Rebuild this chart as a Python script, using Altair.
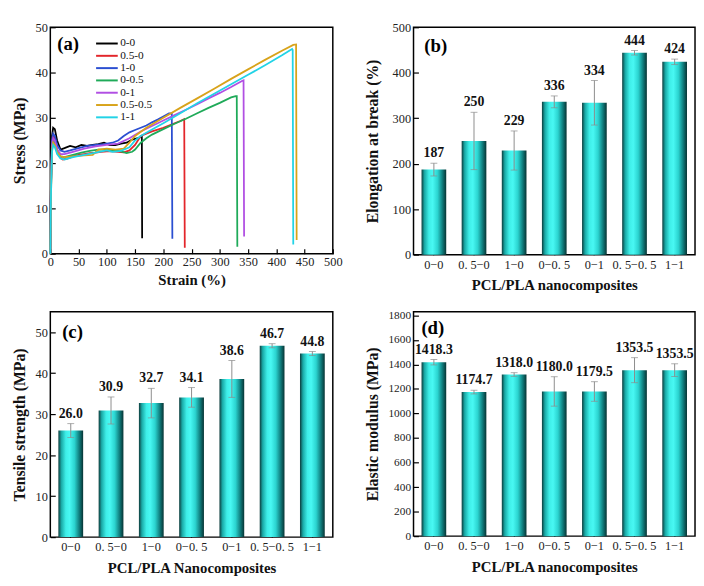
import altair as alt
import pandas as pd

SERIF = "Liberation Serif"

# ---------------- panel (a): stress-strain curves ----------------
samples = ["0-0", "0.5-0", "1-0", "0-0.5", "0-1", "0.5-0.5", "1-1"]
curve_colors = ["#000000", "#e3262b", "#2b4fd1", "#1faa59", "#b14fe3", "#d8a31a", "#22d3e6"]

strain_00 = [0, 1, 3, 5, 8, 12, 18, 25, 35, 45, 55, 65, 75, 85, 95, 105, 115, 125, 135, 145, 155, 160, 162, 162.5]
stress_00 = [0, 15, 26, 27.8, 27.5, 25, 23, 23.3, 23.8, 23.5, 24, 23.8, 24, 24.2, 24.5, 24, 24, 24.3, 24.5, 25.2, 25.5, 25.8, 25.8, 3.4]

strain_050 = [0, 1, 3, 5, 8, 12, 18, 22, 30, 40, 50, 60, 70, 80, 90, 100, 110, 120, 130, 140, 150, 160, 170, 180, 190, 200, 210, 220, 230, 237, 238]
stress_050 = [0, 14, 24.5, 26, 25.5, 23, 21.2, 20.8, 21, 21.5, 21.8, 22, 22.2, 22.3, 22.5, 22.6, 22.6, 22.5, 22.4, 22.8, 24, 26, 26.5, 27, 27.4, 27.8, 28.3, 28.8, 29.3, 29.7, 1.3]

strain_10 = [0, 1, 3, 5, 8, 12, 18, 25, 35, 50, 65, 80, 95, 110, 120, 130, 140, 150, 160, 170, 180, 190, 200, 210, 215, 216]
stress_10 = [0, 14, 25, 26.5, 26, 24, 22.8, 22.5, 22.8, 23.3, 23.8, 24, 24.2, 24.5, 25, 26, 26.8, 27.3, 27.8, 28.3, 29, 29.6, 30.3, 31, 31, 3.3]

strain_005 = [0, 1, 3, 5, 8, 12, 18, 25, 40, 55, 70, 85, 100, 115, 125, 135, 145, 150, 160, 170, 180, 200, 220, 240, 260, 280, 300, 320, 328, 330, 331]
stress_005 = [0, 13, 23.5, 25, 24.5, 22.5, 21.5, 21.3, 21.8, 22.3, 22.7, 23, 23, 22.8, 22.6, 22.2, 22.5, 23, 24.5, 25.5, 26.3, 27.5, 28.7, 29.8, 31, 32.2, 33.3, 34.5, 34.8, 34.8, 1.5]

strain_01 = [0, 1, 3, 5, 8, 12, 18, 25, 40, 60, 80, 100, 120, 140, 160, 180, 200, 220, 240, 260, 280, 300, 320, 340, 342, 343]
stress_01 = [0, 13, 24, 25.5, 25, 23, 22, 22, 22.5, 23.2, 23.7, 24, 24.3, 25.5, 27, 28.2, 29.4, 30.6, 31.8, 33, 34.3, 35.5, 36.8, 38.2, 38.3, 3.8]

strain_0505 = [0, 1, 3, 5, 8, 12, 18, 25, 40, 60, 75, 85, 100, 115, 130, 140, 150, 170, 200, 230, 260, 290, 320, 350, 380, 410, 430, 435, 436]
stress_0505 = [0, 12, 23, 24.5, 24, 22.5, 21.5, 21.3, 21.5, 21.7, 21.8, 23, 23.2, 23, 23.2, 24.5, 26, 27.8, 30, 32.2, 34.3, 36.4, 38.6, 40.7, 42.8, 44.8, 46.1, 46.2, 3]

strain_11 = [0, 1, 3, 5, 8, 12, 18, 25, 40, 60, 80, 100, 110, 125, 140, 150, 160, 180, 200, 230, 260, 290, 320, 350, 380, 410, 428, 429, 430]
stress_11 = [0, 12, 22.5, 24, 23.5, 22, 21, 20.8, 21.3, 21.8, 22.3, 22.8, 22.5, 22.7, 23.5, 25, 26, 27.4, 28.8, 31, 33.2, 35.3, 37.4, 39.5, 41.6, 43.8, 45.2, 45, 2]

strain_ticks = [0, 50, 100, 150, 200, 250, 300, 350, 400, 450, 500]
stress_ticks = [0, 10, 20, 30, 40, 50]

# ---------------- panels (b)-(d): bar charts ----------------
categories = ["0\u22120", "0. 5\u22120", "1\u22120", "0\u22120. 5", "0\u22121", "0. 5\u22120. 5", "1\u22121"]
elongation = [187, 250, 229, 336, 334, 444, 424]
elongation_err = [14, 63, 43, 13, 49, 5, 6]
tensile = [26.0, 30.9, 32.7, 34.1, 38.6, 46.7, 44.8]
tensile_err = [1.7, 3.3, 3.6, 2.4, 4.5, 0.5, 0.5]
modulus = [1418.3, 1174.7, 1318.0, 1180.0, 1179.5, 1353.5, 1353.5]
modulus_err = [22, 15, 15, 120, 80, 102, 52]

elong_ticks = [0, 100, 200, 300, 400, 500]
tensile_ticks = [0, 10, 20, 30, 40, 50]
modulus_ticks = [0, 200, 400, 600, 800, 1000, 1200, 1400, 1600, 1800]

# ---------------- build panel (a) ----------------
curve_x = [strain_00, strain_050, strain_10, strain_005, strain_01, strain_0505, strain_11]
curve_y = [stress_00, stress_050, stress_10, stress_005, stress_01, stress_0505, stress_11]
rows = []
for name, xs, ys in zip(samples, curve_x, curve_y):
    for i, (sx, sy) in enumerate(zip(xs, ys)):
        rows.append({"sample": name, "strain": sx, "stress": sy, "idx": i})
curves = pd.DataFrame(rows)

lines = alt.Chart(curves).mark_line(strokeWidth=1.8).encode(
    x=alt.X("strain:Q", title="Strain (%)",
            scale=alt.Scale(domain=[0, 500], nice=False),
            axis=alt.Axis(values=strain_ticks, labelPadding=2, titlePadding=5,
                          labelFlush=False, labelOverlap=False, format="d")),
    y=alt.Y("stress:Q", title="Stress (MPa)",
            scale=alt.Scale(domain=[0, 50], nice=False),
            axis=alt.Axis(values=stress_ticks, labelPadding=3, titlePadding=8,
                          labelFlush=False, format="d")),
    color=alt.Color("sample:N", sort=samples,
                    scale=alt.Scale(domain=samples, range=curve_colors),
                    legend=alt.Legend(title=None, orient="none", legendX=51, legendY=10,
                                      symbolType="M-2,0H2", symbolSize=121, symbolStrokeWidth=2,
                                      labelFont=SERIF, labelFontSize=11.5, labelColor="#111",
                                      rowPadding=0.5, labelOffset=7)),
    order="idx:Q",
)
label_a = alt.Chart(pd.DataFrame({"t": ["(a)"]})).mark_text(
    font=SERIF, fontSize=19, fontWeight="bold", align="left", baseline="middle", color="#000"
).encode(x=alt.value(7), y=alt.value(17), text="t:N")
panel_a = alt.layer(lines, label_a).properties(width=287, height=230)

# ---------------- bar panel builder ----------------
bar_gradient = alt.Gradient(
    gradient="linear", x1=0, x2=1, y1=0, y2=0,
    stops=[
        alt.GradientStop(color="#0c3c3c", offset=0),
        alt.GradientStop(color="#1aa9a6", offset=0.12),
        alt.GradientStop(color="#3eeee8", offset=0.3),
        alt.GradientStop(color="#48f8f3", offset=0.45),
        alt.GradientStop(color="#2bd4d0", offset=0.65),
        alt.GradientStop(color="#0f7a7a", offset=0.85),
        alt.GradientStop(color="#073333", offset=1),
    ],
)


def bar_panel(vals, errs, ytitle, xtitle, domain, ticks, fmt, letter, lx, ly,
              width, height, title_pad, ylabel_size):
    df = pd.DataFrame({"cat": categories, "v": vals, "e": errs})
    df["lo"] = df["v"] - df["e"]
    df["hi"] = df["v"] + df["e"]
    xenc = alt.X("cat:N", sort=categories, title=xtitle,
                 scale=alt.Scale(paddingInner=0.385, paddingOuter=0.2),
                 axis=alt.Axis(labelAngle=0, labelPadding=4, titlePadding=7,
                               labelFontSize=12.5, offset=-4, tickSize=4))
    yscale = alt.Scale(domain=domain, nice=False)
    yaxis = alt.Axis(values=ticks, labelPadding=3, titlePadding=title_pad,
                     labelFontSize=ylabel_size, format="d", labelFlush=False)

    def yenc(field):
        return alt.Y(field, title=ytitle, scale=yscale, axis=yaxis)

    base = alt.Chart(df)
    bars = base.mark_bar(color=bar_gradient).encode(x=xenc, y=yenc("v:Q"))
    rule = base.mark_rule(color="#8c8c8c", strokeWidth=1).encode(x=xenc, y=yenc("lo:Q"), y2="hi:Q")
    cap_hi = base.mark_tick(color="#8c8c8c", size=7, thickness=1).encode(x=xenc, y=yenc("hi:Q"))
    cap_lo = base.mark_tick(color="#8c8c8c", size=7, thickness=1).encode(x=xenc, y=yenc("lo:Q"))
    txt = base.mark_text(dy=-3, baseline="bottom", font=SERIF, fontSize=14,
                         fontWeight="bold", color="#111").encode(
        x=xenc, y=yenc("hi:Q"), text=alt.Text("v:Q", format=fmt))
    lab = alt.Chart(pd.DataFrame({"t": [letter]})).mark_text(
        font=SERIF, fontSize=19, fontWeight="bold", align="left", baseline="middle", color="#000"
    ).encode(x=alt.value(lx), y=alt.value(ly), text="t:N")
    return alt.layer(bars, rule, cap_hi, cap_lo, txt, lab).properties(width=width, height=height)


panel_b = bar_panel(elongation, elongation_err, "Elongation at break (%)", "PCL/PLA nanocomposites",
                    [0, 500], elong_ticks, "d", "(b)", 11, 19, 286, 231, 12, 12.5)
panel_c = bar_panel(tensile, tensile_err, "Tensile strength (MPa)", "PCL/PLA Nanocomposites",
                    [0, 55], tensile_ticks, ".1f", "(c)", 12, 21, 287, 229, 8, 12.5)
panel_d = bar_panel(modulus, modulus_err, "Elastic modulus (MPa)", "PCL/PLA nanocomposites",
                    [0, 1830], modulus_ticks, ".1f", "(d)", 8, 17, 286, 228, 8, 11.5)

chart = alt.concat(panel_a, panel_b, panel_c, panel_d, columns=2,
                   spacing={"row": 14, "column": 20}).properties(
    align="each",
    padding={"left": 2, "top": 8, "right": 0, "bottom": 0},
).configure(font=SERIF).configure_view(
    stroke="#000", strokeWidth=1.5
).configure_axis(
    domain=False, grid=False, offset=-5, tickSize=5, tickColor="#000", tickWidth=1.2,
    labelFont=SERIF, labelFontSize=12.5, labelColor="#222",
    titleFont=SERIF, titleFontSize=16, titleFontWeight="bold", titleColor="#111",
).configure_axisX(titleFontSize=15)

chart.save("out.html", embed_options={"renderer": "svg", "actions": False})
